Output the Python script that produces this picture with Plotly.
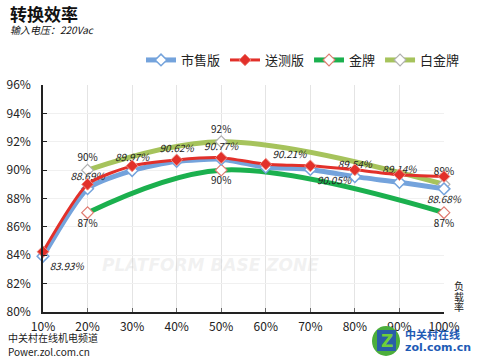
import plotly.graph_objects as go

loads = [10, 20, 30, 40, 50, 60, 70, 80, 90, 100]
load_labels = ["10%", "20%", "30%", "40%", "50%", "60%", "70%", "80%", "90%", "100%"]

retail = [83.93, 88.69, 89.97, 90.62, 90.77, 90.21, 90.05, 89.54, 89.14, 88.68]
sample = [84.25, 89.0, 90.3, 90.72, 90.88, 90.42, 90.3, 90.02, 89.68, 89.55]

std_loads = [20, 50, 100]
gold = [87, 90, 87]
platinum = [90, 92, 89]

yticks = [80, 82, 84, 86, 88, 90, 92, 94, 96]

BLUE = "#74a3dc"
RED = "#e2302a"
GREEN = "#1bb04e"
OLIVE = "#a6c35c"
FONT = "Noto Sans CJK SC"

W, H = 482, 362
L, R, T, B = 43, 444, 85, 312
PW, PH = R - L, B - T


def px(x):
    return (x - L) / PW


def py(y):
    return (B - y) / PH


retail_text = ["<i>%.2f%%</i>" % v for v in retail]
retail_pos = ["bottom right", "top center", "top center", "top center", "top center",
              "top right", "bottom right", "top center", "top center", "bottom center"]

gold_tr = go.Scatter(
    x=std_loads, y=gold, name="金牌", mode="lines+markers+text", legendrank=3,
    line=dict(color=GREEN, width=5, shape="spline", smoothing=1.0),
    marker=dict(symbol="diamond", size=9, color="white", line=dict(color="#e07a70", width=1.2)),
    text=["%d%%" % v for v in gold], textposition="bottom center",
    textfont=dict(family=FONT, size=10, color="#222"), cliponaxis=False)

plat_tr = go.Scatter(
    x=std_loads, y=platinum, name="白金牌", mode="lines+markers+text", legendrank=4,
    line=dict(color=OLIVE, width=5, shape="spline", smoothing=1.0),
    marker=dict(symbol="diamond", size=9, color="white", line=dict(color="#b0b0b0", width=1.2)),
    text=["%d%%" % v for v in platinum], textposition="top center",
    textfont=dict(family=FONT, size=10, color="#222"), cliponaxis=False)

retail_tr = go.Scatter(
    x=loads, y=retail, name="市售版", mode="lines+markers+text", legendrank=1,
    line=dict(color=BLUE, width=5, shape="spline", smoothing=0.6),
    marker=dict(symbol="diamond", size=9, color="white", line=dict(color=BLUE, width=1.5)),
    text=retail_text, textposition=retail_pos,
    textfont=dict(family=FONT, size=10, color="#222"), cliponaxis=False)

sample_tr = go.Scatter(
    x=loads, y=sample, name="送测版", mode="lines+markers", legendrank=2,
    line=dict(color=RED, width=3, shape="spline", smoothing=0.6),
    marker=dict(symbol="diamond", size=9, color=RED, line=dict(color="#f08a80", width=1)),
    cliponaxis=False)

fig = go.Figure([gold_tr, plat_tr, retail_tr, sample_tr])

fig.update_layout(
    width=W, height=H,
    margin=dict(l=L, r=W - R, t=T, b=H - B),
    paper_bgcolor="white", plot_bgcolor="white",
    font=dict(family=FONT, color="#222"),
    showlegend=True,
    legend=dict(orientation="h", xref="container", yref="container",
                x=141 / W, xanchor="left", y=1 - 60 / H, yanchor="middle",
                font=dict(size=13, family=FONT, color="#222"), traceorder="normal",
                itemwidth=30, tracegroupgap=0, bgcolor="rgba(0,0,0,0)"),
    xaxis=dict(range=[10, 100], tickvals=loads, ticktext=load_labels, automargin=False,
               showgrid=True, gridcolor="#e4e4e4", gridwidth=1,
               showline=True, linecolor="#222", linewidth=1.5,
               ticks="inside", ticklen=4, tickcolor="#666", ticklabelstandoff=3,
               tickfont=dict(size=12, family=FONT), zeroline=False),
    yaxis=dict(range=[80, 96], tickvals=yticks, ticktext=["%d%%" % v for v in yticks],
               automargin=False,
               showgrid=True, gridcolor="#f0f0f0", gridwidth=1,
               showline=True, linecolor="#222", linewidth=1.5,
               ticks="inside", ticklen=4, tickcolor="#222", ticklabelstandoff=8,
               tickfont=dict(size=12, family=FONT), zeroline=False),
)


def note(x, y, text, size, color="#222", family=FONT, anchor="left"):
    fig.add_annotation(xref="paper", yref="paper", x=px(x), y=py(y), text=text,
                       showarrow=False, xanchor=anchor, yanchor="middle",
                       font=dict(size=size, family=family, color=color))


note(8, 13, "<b>转换效率</b>", 17, "#111")
note(8, 30, "<i>输入电压：220Vac</i>", 10, "#111")
for ch, yy in zip(["负", "载", "率"], [285, 296, 306]):
    note(459, yy, ch, 10, anchor="center")
note(6, 337, "中关村在线机电频道", 10)
note(6, 351, "Power.zol.com.cn", 10)
note(210, 265, "<b><i>PLATFORM BASE ZONE</i></b>", 17, "rgba(200,200,200,0.25)",
     "DejaVu Sans", "center")

# ZOL logo
fig.add_shape(type="circle", xref="paper", yref="paper",
              x0=px(372), x1=px(400), y0=py(356), y1=py(326),
              fillcolor="#4cae3c", line=dict(width=0))
fig.add_shape(type="rect", xref="paper", yref="paper",
              x0=px(377), x1=px(396), y0=py(351), y1=py(330),
              fillcolor="#2a5ea8", line=dict(width=0))
note(386.5, 341, "<b>Z</b>", 17, "#6fcf3a", "DejaVu Sans", "center")
note(403, 334, "<b>中关村在线</b>", 11, "#1e5bb5")
note(403, 347, "<b>zol.com.cn</b>", 11, "#1e5bb5", "DejaVu Sans")

fig.write_html("out.html", config={"displayModeBar": False},
               post_script="document.body.style.margin='0';")
